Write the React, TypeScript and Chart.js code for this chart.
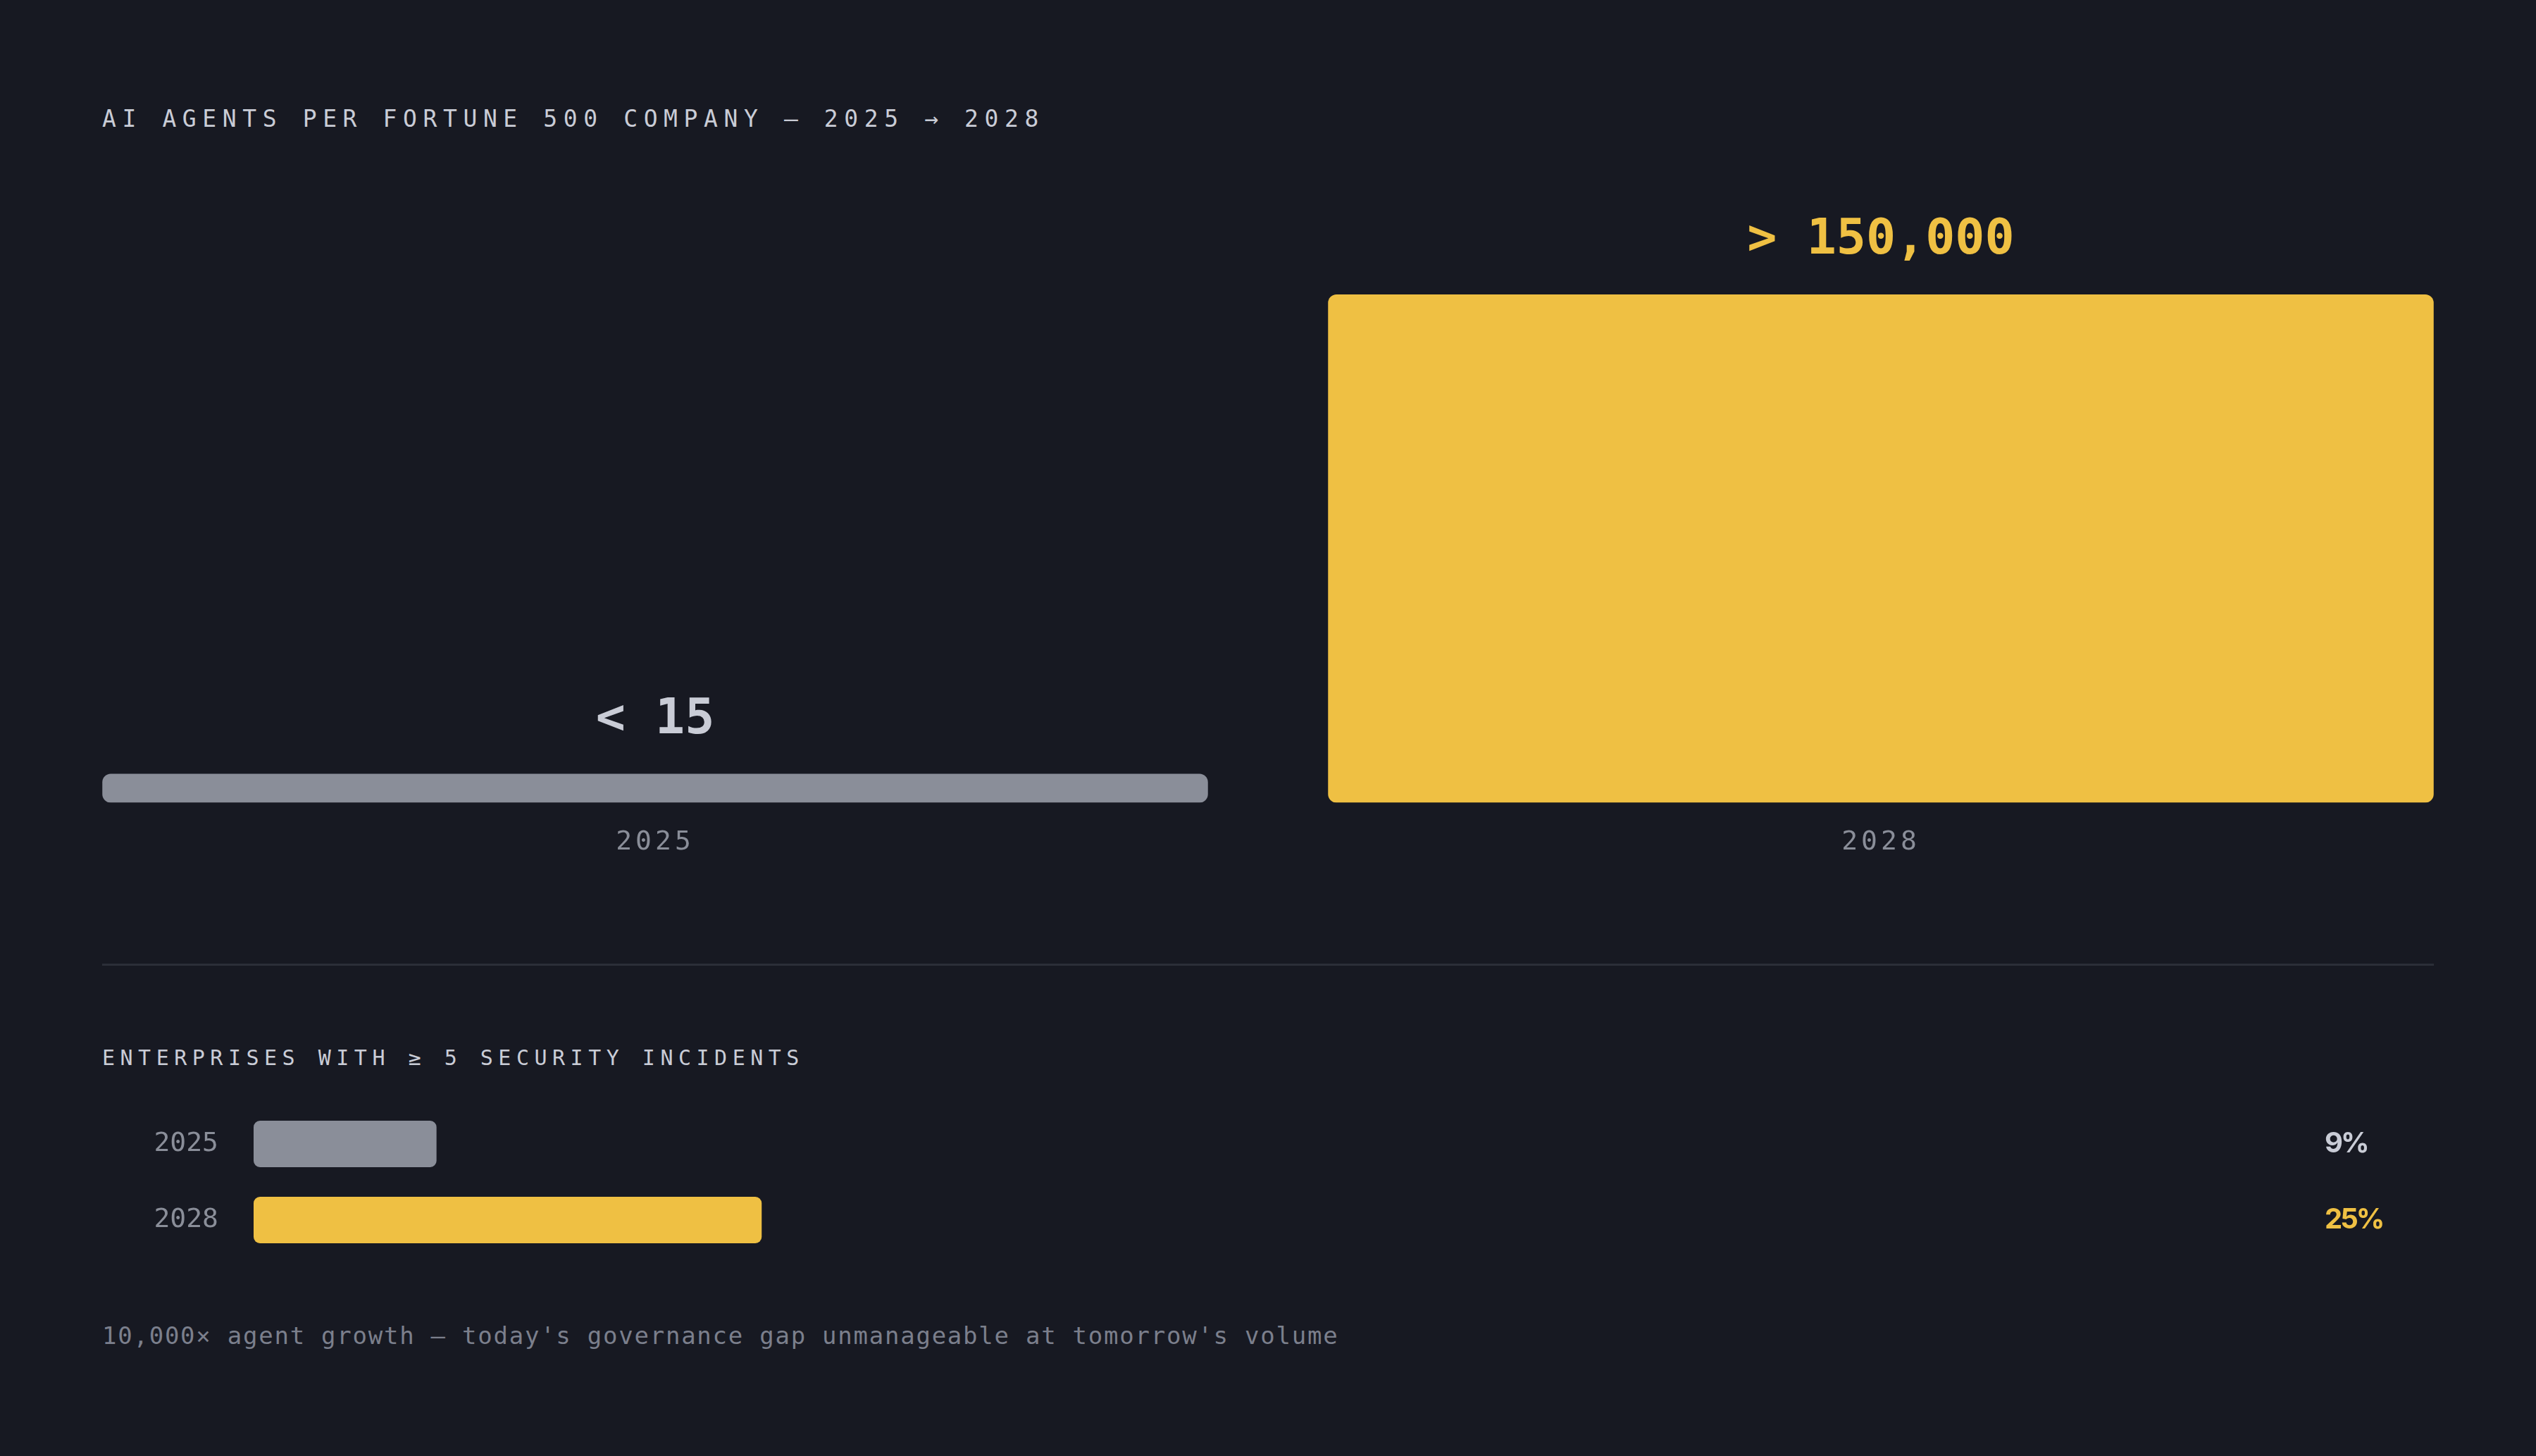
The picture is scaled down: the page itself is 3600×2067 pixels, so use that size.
import { Chart, registerables } from 'chart.js';
import { useEffect, useRef } from 'react';

Chart.register(...registerables);

const agentYears = ['2025', '2028'];
const agentCounts = [15, 150000];
const agentLabels = ['< 15', '> 150,000'];

const incidentYears = ['2025', '2028'];
const incidentShares = [9, 25];
const incidentLabels = ['9%', '25%'];

const BG = '#171922';
const GREY = '#8a8e99';
const YELLOW = '#efc043';
const LIGHT = '#c9ccd6';
const MUTED = '#7b7f8c';
const MONO = '"DejaVu Sans Mono", "Liberation Mono", monospace';

export default function App() {
	const topRef = useRef<HTMLCanvasElement | null>(null);
	const lowRef = useRef<HTMLCanvasElement | null>(null);

	useEffect(() => {
		document.body.style.margin = '0';
		document.body.style.background = BG;
		if (!topRef.current || !lowRef.current) return;

		const topChart = new Chart(topRef.current, {
			type: 'bar',
			data: {
				labels: agentYears,
				datasets: [
					{
						data: agentCounts,
						backgroundColor: [GREY, YELLOW],
						borderRadius: 12,
						borderSkipped: false,
						minBarLength: 41,
						categoryPercentage: 1,
						barPercentage: 0.902,
					},
				],
			},
			options: {
				responsive: false,
				animation: false,
				layout: { padding: { top: 168, bottom: 12, left: 0, right: 0 } },
				plugins: { legend: { display: false }, tooltip: { enabled: false } },
				scales: {
					x: {
						grid: { display: false, drawTicks: false },
						border: { display: false },
						ticks: { color: GREY, padding: 34, font: { family: MONO, size: 38 } },
					},
					y: { display: false, min: 0, max: 150000 },
				},
			},
			plugins: [
				{
					id: 'spacing',
					beforeDraw(chart) {
						(chart.ctx as any).letterSpacing = '5px';
					},
				},
				{
					id: 'values',
					afterDatasetsDraw(chart) {
						const ctx = chart.ctx;
						ctx.save();
						(ctx as any).letterSpacing = '0px';
						ctx.font = `bold 70px ${MONO}`;
						ctx.textAlign = 'center';
						ctx.textBaseline = 'middle';
						chart.getDatasetMeta(0).data.forEach((bar, i) => {
							ctx.fillStyle = i === 0 ? LIGHT : YELLOW;
							ctx.fillText(agentLabels[i], bar.x, bar.y - 76);
						});
						ctx.restore();
					},
				},
			],
		});

		const lowChart = new Chart(lowRef.current, {
			type: 'bar',
			data: {
				labels: incidentYears,
				datasets: [
					{
						data: incidentShares,
						backgroundColor: [GREY, YELLOW],
						borderRadius: 9,
						borderSkipped: false,
						categoryPercentage: 1,
						barPercentage: 0.611,
					},
				],
			},
			options: {
				indexAxis: 'y',
				responsive: false,
				animation: false,
				layout: { padding: { top: 30, bottom: 34, left: 145, right: 355 } },
				plugins: { legend: { display: false }, tooltip: { enabled: false } },
				scales: {
					x: { display: false, min: 0, max: 100 },
					y: {
						grid: { display: false, drawTicks: false },
						border: { display: false },
						ticks: { color: GREY, padding: 50, font: { family: MONO, size: 38 } },
						afterFit(scale) {
							scale.width = 215;
							scale.paddingTop = 0;
							scale.paddingBottom = 0;
						},
					},
				},
			},
			plugins: [
				{
					id: 'values',
					afterDatasetsDraw(chart) {
						const ctx = chart.ctx;
						ctx.save();
						(ctx as any).letterSpacing = '-3px';
						ctx.font = 'bold 40px Inter, "Noto Sans", sans-serif';
						ctx.textAlign = 'left';
						ctx.textBaseline = 'middle';
						chart.getDatasetMeta(0).data.forEach((bar, i) => {
							ctx.fillStyle = i === 0 ? LIGHT : YELLOW;
							ctx.fillText(incidentLabels[i], chart.chartArea.right + 55, bar.y);
						});
						ctx.restore();
					},
				},
			],
		});

		return () => {
			topChart.destroy();
			lowChart.destroy();
		};
	}, []);

	return (
		<div style={{ position: 'relative', width: 3600, height: 2067, background: BG, overflow: 'hidden', fontFamily: MONO }}>
			<div style={{ position: 'absolute', left: 145, top: 152, fontSize: 33, lineHeight: 1, letterSpacing: 8.6, color: LIGHT, whiteSpace: 'nowrap' }}>
				AI AGENTS PER FORTUNE 500 COMPANY — 2025 → 2028
			</div>
			<canvas ref={topRef} width={3480} height={1015} style={{ position: 'absolute', left: 60, top: 250 }}></canvas>
			<div style={{ position: 'absolute', left: 145, top: 1368, width: 3310, height: 3, background: '#2b2e38' }}></div>
			<div style={{ position: 'absolute', left: 145, top: 1487, fontSize: 30, lineHeight: 1, letterSpacing: 7.5, color: LIGHT, whiteSpace: 'nowrap' }}>
				ENTERPRISES WITH ≥ 5 SECURITY INCIDENTS
			</div>
			<canvas ref={lowRef} width={3600} height={280} style={{ position: 'absolute', left: 0, top: 1540 }}></canvas>
			<div style={{ position: 'absolute', left: 145, top: 1879, fontSize: 34, lineHeight: 1, letterSpacing: 1.75, color: MUTED, whiteSpace: 'nowrap' }}>
				10,000× agent growth — today's governance gap unmanageable at tomorrow's volume
			</div>
		</div>
	);
}
